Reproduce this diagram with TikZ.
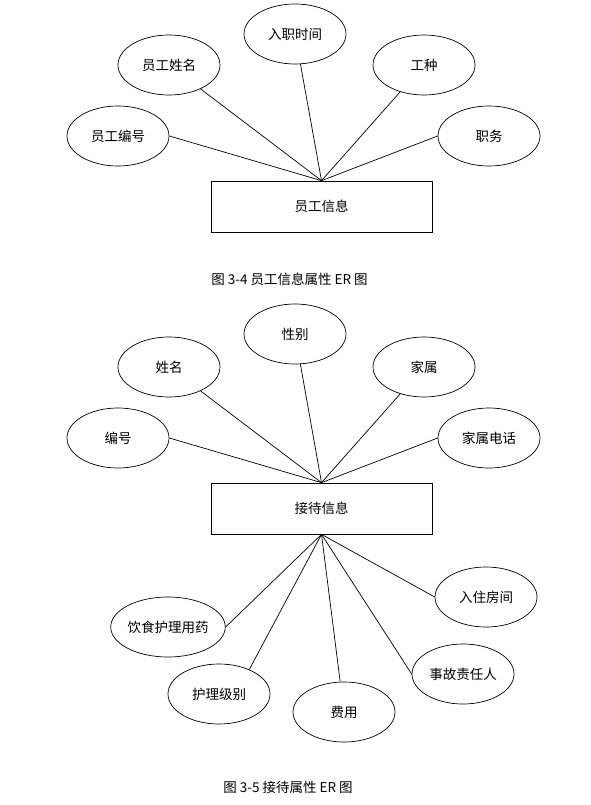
\documentclass[tikz,border=0pt]{standalone}
\usepackage{fontspec}
\setmainfont{Noto Sans CJK SC}
\usetikzlibrary{shapes.geometric}
\tikzset{
  attr/.style={draw,ellipse,minimum width=102pt,minimum height=60pt,inner sep=0pt},
  entity/.style={draw,rectangle,minimum width=221pt,minimum height=51pt,inner sep=0pt},
  caption/.style={inner sep=0pt}
}
\begin{document}
\begin{tikzpicture}[x=1pt,y=-1pt,line width=0.7pt,font=\fontsize{13.5}{15}\selectfont]
   \useasboundingbox (0,0) rectangle (590,805);

   % 员工信息
   \node[entity] (ygxx) at (321.5,206.5) {员工信息};
   \node[attr] (ygbh) at (118,136) {员工编号};
   \node[attr] (ygxm) at (169,65) {员工姓名};
   \node[attr] (rzsj) at (295,34) {入职时间};
   \node[attr] (gz) at (424,65) {工种};
   \node[attr] (zw) at (489,136) {职务};
   \node[caption] (cap1) at (289.5,279) {图 3-4 员工信息属性 ER 图};

   \draw (ygbh.east) -- (ygxx.north);
   \draw (ygxm) -- (ygxx.north);
   \draw (rzsj) -- (ygxx.north);
   \draw (gz) -- (ygxx.north);
   \draw (zw.west) -- (ygxx.north);

   % 接待信息
   \node[entity] (jdxx) at (321.5,508.5) {接待信息};
   \node[attr] (bh) at (118,438) {编号};
   \node[attr] (xm) at (169,367) {姓名};
   \node[attr] (xb) at (295,334) {性别};
   \node[attr] (js) at (424,367) {家属};
   \node[attr] (jsdh) at (489,438) {家属电话};

   \draw (bh.east) -- (jdxx.north);
   \draw (xm) -- (jdxx.north);
   \draw (xb) -- (jdxx.north);
   \draw (js) -- (jdxx.north);
   \draw (jsdh.west) -- (jdxx.north);

   \node[attr] (ysyy) at (168,627) {饮食护理用药};
   \node[attr] (hljb) at (219,694) {护理级别};
   \node[attr] (fy) at (344,712) {费用};
   \node[attr] (sgzr) at (463,674) {事故责任人};
   \node[attr] (rzfj) at (486,597) {入住房间};
   \node[caption] (cap2) at (288,787) {图 3-5 接待属性 ER 图};

   \draw (ysyy.east) -- (jdxx.south);
   \draw (hljb.39) -- (jdxx.south);
   \draw (fy) -- (jdxx.south);
   \draw (sgzr.west) -- (jdxx.south);
   \draw (rzfj.west) -- (jdxx.south);
\end{tikzpicture}
\end{document}
